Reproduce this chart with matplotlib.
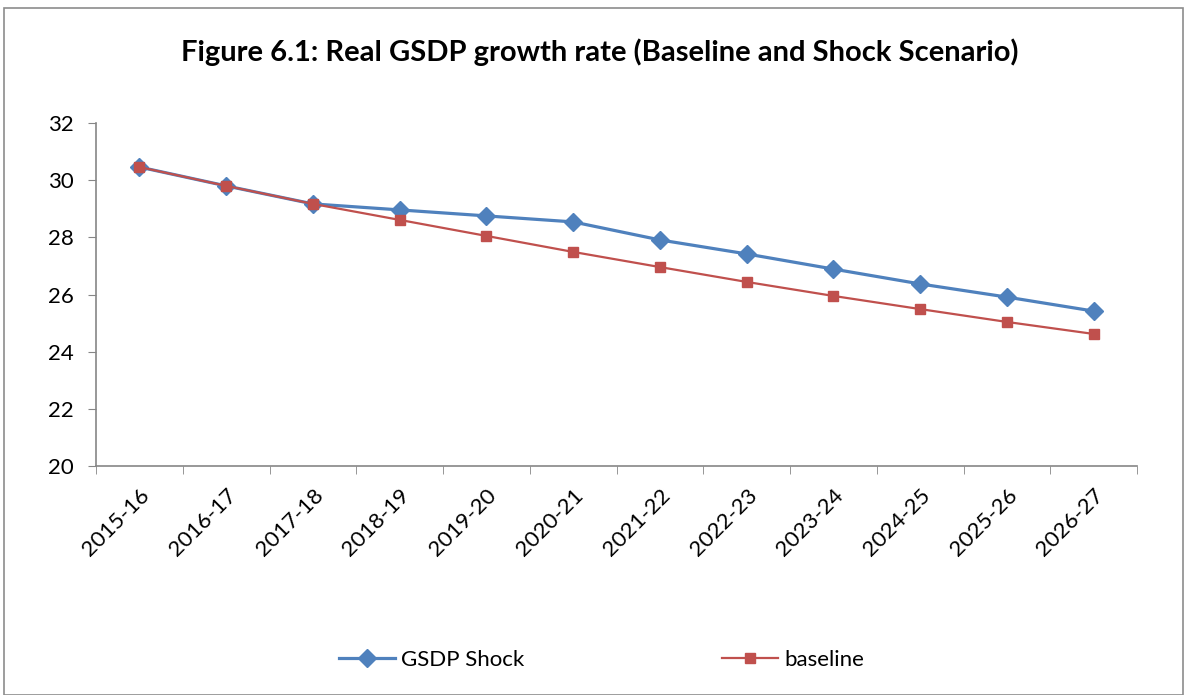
import matplotlib
matplotlib.use('Agg')
import matplotlib.pyplot as plt
from matplotlib.patches import Rectangle
import numpy as np

years = ['2015-16', '2016-17', '2017-18', '2018-19', '2019-20', '2020-21',
         '2021-22', '2022-23', '2023-24', '2024-25', '2025-26', '2026-27']
gsdp_shock = [30.46, 29.80, 29.17, 28.96, 28.75, 28.54, 27.91, 27.42, 26.89, 26.37, 25.91, 25.42]
baseline = [30.46, 29.80, 29.17, 28.61, 28.05, 27.49, 26.96, 26.44, 25.95, 25.49, 25.04, 24.62]

plt.rcParams['font.family'] = ['Lato', 'DejaVu Sans']

fig = plt.figure(figsize=(11.87, 6.95), dpi=100)
fig.patches.append(Rectangle((0.003, 0.0), 0.994, 0.988, transform=fig.transFigure,
                             fill=False, edgecolor='#8c8c8c', linewidth=1.2))

ax = fig.add_axes([0.0809, 0.3295, 0.877, 0.4935])
x = np.arange(len(years))
ax.plot(x, gsdp_shock, color='#4F81BD', linewidth=2.3, marker='D', markersize=9,
        label='GSDP Shock')
ax.plot(x, baseline, color='#C0504D', linewidth=1.6, marker='s', markersize=6.5,
        label='baseline')

ax.set_xlim(-0.5, len(years) - 0.5)
ax.set_ylim(20, 32)
ax.set_yticks(range(20, 33, 2))
ax.set_xticks(x)
ax.set_xticklabels(years, rotation=45, ha='right', rotation_mode='anchor')
ax.set_xticks(np.arange(-0.5, len(years), 1), minor=True)
ax.tick_params(axis='x', which='major', length=0, pad=14, labelsize=16)
ax.tick_params(axis='x', which='minor', length=6, color='#868686', direction='out')
ax.tick_params(axis='y', length=6, color='#868686', labelsize=16, pad=10)
for s in ['top', 'right']:
    ax.spines[s].set_visible(False)
for s in ['left', 'bottom']:
    ax.spines[s].set_color('#868686')
    ax.spines[s].set_linewidth(1.2)

fig.text(0.505, 0.925, 'Figure 6.1: Real GSDP growth rate (Baseline and Shock Scenario)',
         ha='center', va='center', fontsize=21, fontweight='bold')

fig.legend(loc='center', bbox_to_anchor=(0.507, 0.05), ncol=2, frameon=False,
           fontsize=16, columnspacing=8.9, handlelength=2.5, handletextpad=0.3)

fig.savefig('out.png', dpi=100)
